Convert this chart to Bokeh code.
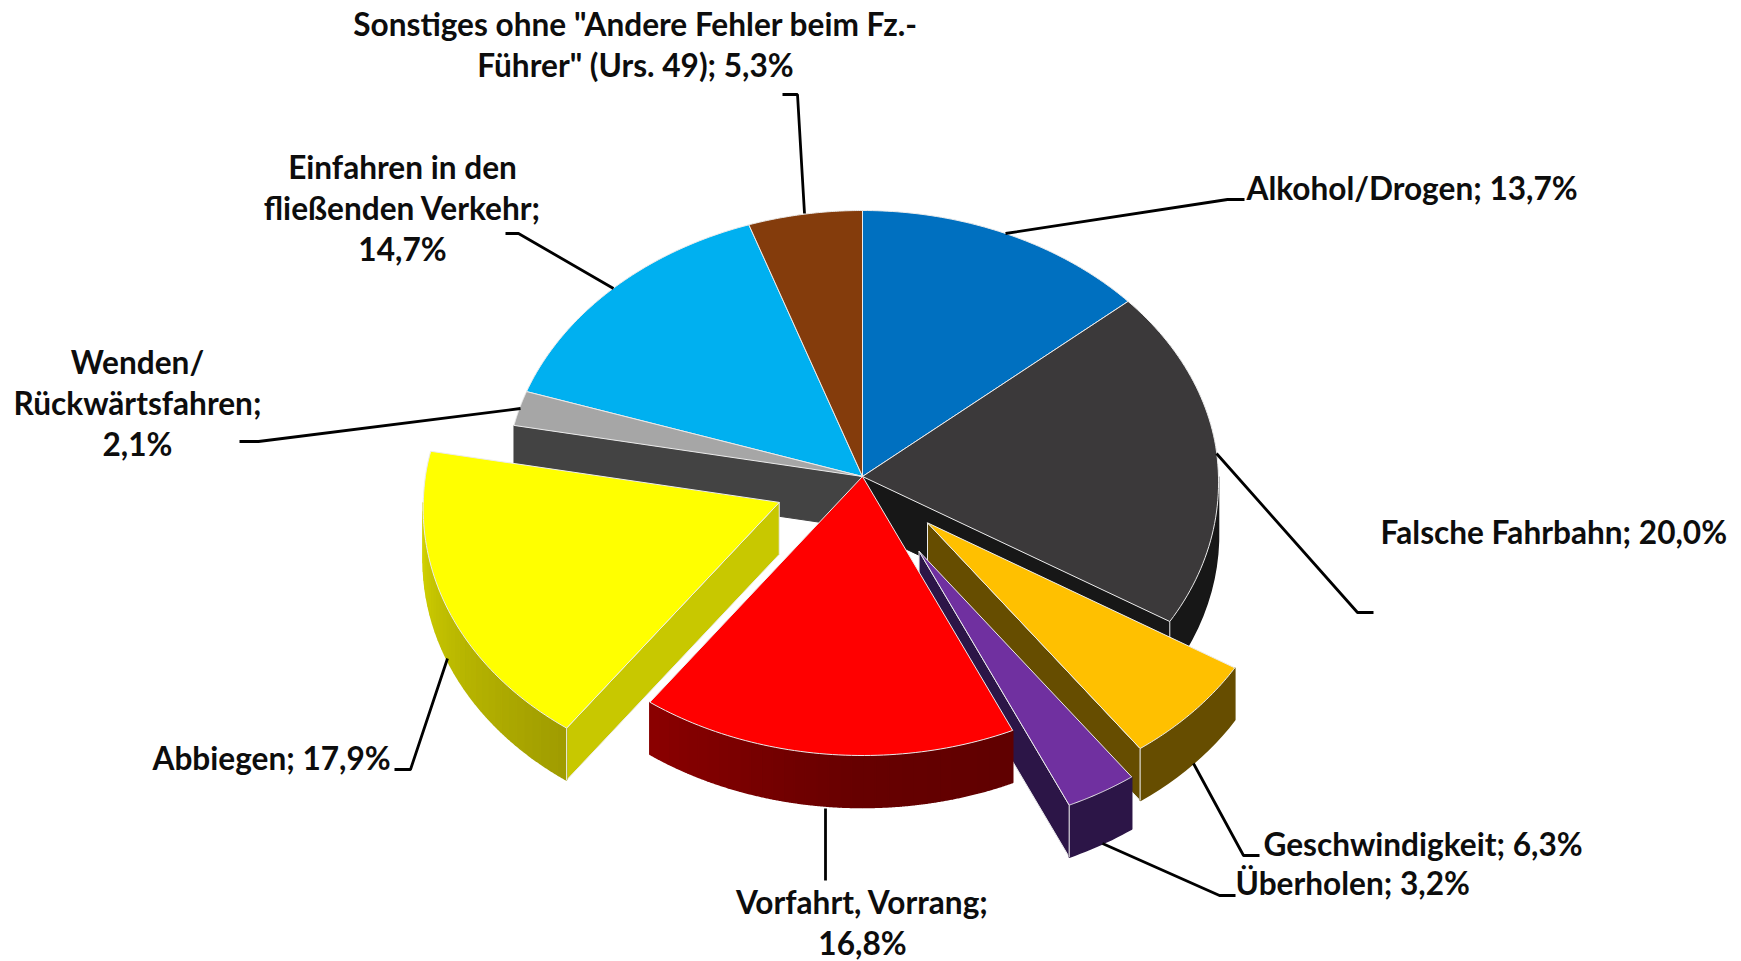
import math
from bokeh.plotting import figure
from bokeh.embed import file_html
from bokeh.resources import INLINE
from bokeh.core.properties import value

# ---- data ----
categories = ["Alkohol/Drogen", "Falsche Fahrbahn", "Geschwindigkeit", "Überholen", "Vorfahrt, Vorrang",
              "Abbiegen", "Wenden/Rückwärtsfahren", "Einfahren in den fließenden Verkehr", "Sonstiges"]
shares = [13.7, 20.0, 6.3, 3.2, 16.8, 17.9, 2.1, 14.7, 5.3]
explode = [0, 0, 0.245, 0.31, 0, 0.25, 0, 0, 0]
top_colors = ["#0070c0", "#3b393a", "#ffc000", "#7030a0", "#ff0000", "#ffff00", "#a6a6a6", "#00b0f0", "#843c0c"]

label_lines = [
    (["Alkohol/Drogen; 13,7%"], 1246, 187, "left"),
    (["Falsche Fahrbahn; 20,0%"], 1380, 531, "left"),
    (["Geschwindigkeit; 6,3%"], 1263, 843, "left"),
    (["Überholen; 3,2%"], 1235, 882, "left"),
    (["Vorfahrt, Vorrang;", "16,8%"], 862, 901, "center"),
    (["Abbiegen; 17,9%"], 152, 757, "left"),
    (["Wenden/", "Rückwärtsfahren;", "2,1%"], 137, 361, "center"),
    (["Einfahren in den", "fließenden Verkehr;", "14,7%"], 402, 166, "center"),
    (['Sonstiges ohne "Andere Fehler beim Fz.-', 'Führer" (Urs. 49); 5,3%'], 635, 23, "center"),
]
leaders = [
    ([1005, 1227, 1244], [233, 199, 199]),
    ([1216, 1357, 1373], [453, 612, 612]),
    ([1193, 1243, 1259], [763, 855, 855]),
    ([1102, 1219, 1235], [843, 895, 895]),
    ([825, 825], [808, 880]),
    ([447, 410, 394], [658, 769, 769]),
    ([520, 258, 239], [408, 441, 441]),
    ([613, 518, 505], [288, 233, 233]),
    ([804, 797, 782], [213, 94, 94]),
]

# ---- layout ----
CX, CY = 862, 476
RX, RY_UP, RY_DOWN = 356, 266, 279
DEPTH = 52
LINE_H = 41
EDGE = "#ececec"
FONT = "Lato"
FONT_SIZE = "31.6px"

edges = [0]
for s in shares:
    edges.append(edges[-1] + s)
angles = [e * 3.6 for e in edges]


def pt(theta, ax, ay):
    s, c = math.sin(math.radians(theta)), math.cos(math.radians(theta))
    y = -c * (RY_UP if c > 0 else RY_DOWN)
    if c > 0:
        y -= 3 * s * s * min(c * 10, 1)
    x = s * RX * (1 + 0.02 * max(-c, 0) - 0.025 * max(c, 0))
    return ax + x, ay + y


def apex(i):
    mid = (angles[i] + angles[i + 1]) / 2
    x, y = pt(mid, 0, 0)
    return CX + x * explode[i], CY + y * explode[i]


def arc(a0, a1, ax, ay, dy=0, n=60):
    xs, ys = [], []
    for k in range(n + 1):
        t = a0 + (a1 - a0) * k / n
        x, y = pt(t, ax, ay)
        xs.append(x)
        ys.append(y + dy)
    return xs, ys


def mix(c0, c1, f):
    a = [int(c0[j:j + 2], 16) for j in (1, 3, 5)]
    b = [int(c1[j:j + 2], 16) for j in (1, 3, 5)]
    return "#%02x%02x%02x" % tuple(round(u + (v - u) * f) for u, v in zip(a, b))


p = figure(width=1741, height=961, x_range=(0, 1741), y_range=(961, 0),
           x_axis_location=None, y_axis_location=None, toolbar_location=None,
           output_backend="svg", min_border=0, outline_line_color=None)
p.grid.visible = False


def top_face(i):
    ax, ay = apex(i)
    xs, ys = arc(angles[i], angles[i + 1], ax, ay)
    p.patch([ax] + xs, [ay] + ys, fill_color=top_colors[i], line_color=EDGE, line_width=1)


def wall(i, theta, color, edge=EDGE):
    ax, ay = apex(i)
    x, y = pt(theta, ax, ay)
    p.patch([ax, x, x, ax], [ay, y, y + DEPTH, ay + DEPTH], fill_color=color, line_color=edge, line_width=1)


def rim(i, a0, a1, c0, c1, steps=1):
    ax, ay = apex(i)
    for k in range(steps):
        t0 = a0 + (a1 - a0) * k / steps
        t1 = a0 + (a1 - a0) * (k + 1) / steps
        xs, ys = arc(t0, t1, ax, ay, n=12)
        xb, yb = arc(t1, t0, ax, ay, dy=DEPTH, n=12)
        col = mix(c0, c1, k / max(steps - 1, 1))
        p.patch(xs + xb, ys + yb, fill_color=col, line_color=col, line_width=1.6)


def corner(i, t):
    ax, ay = apex(i)
    x, y = pt(t, ax, ay)
    p.line([x, x], [y, y + DEPTH], line_color=EDGE, line_width=1)


# back parts of the unexploded slices
rim(1, 90, angles[2], "#171717", "#171717")
wall(1, angles[2], "#171717", edge="#171717")
corner(1, angles[2])
wall(6, angles[6], "#434343", edge="#434343")

for i in (0, 1, 7, 8, 6):
    top_face(i)

# gold slice
wall(2, angles[3], "#664d00")
rim(2, angles[2], angles[3], "#664d00", "#664d00")
corner(2, angles[3])
top_face(2)

# purple slice
wall(3, angles[4], "#2c1547")
rim(3, angles[3], angles[4], "#2c1547", "#2c1547")
corner(3, angles[4])
top_face(3)

# red slice
rim(4, angles[4], 180, "#600000", "#660000", steps=12)
rim(4, 180, angles[5], "#660000", "#8a0000", steps=20)
top_face(4)

# yellow slice
wall(5, angles[5], "#c8c800")
rim(5, angles[5], 270, "#a09c00", "#d2d200", steps=30)
corner(5, angles[5])
top_face(5)

# leader lines
for xs, ys in leaders:
    p.line(xs, ys, line_color="#000000", line_width=2.8)

# labels
for lines, x, y, align in label_lines:
    for k, t in enumerate(lines):
        p.text([x], [y + k * LINE_H], text=[t], text_font=value(FONT), text_font_style="bold",
               text_font_size=FONT_SIZE, text_align=align, text_baseline="middle", text_color="#0d0d0d")

open("out.html", "w").write(file_html(p, INLINE))
